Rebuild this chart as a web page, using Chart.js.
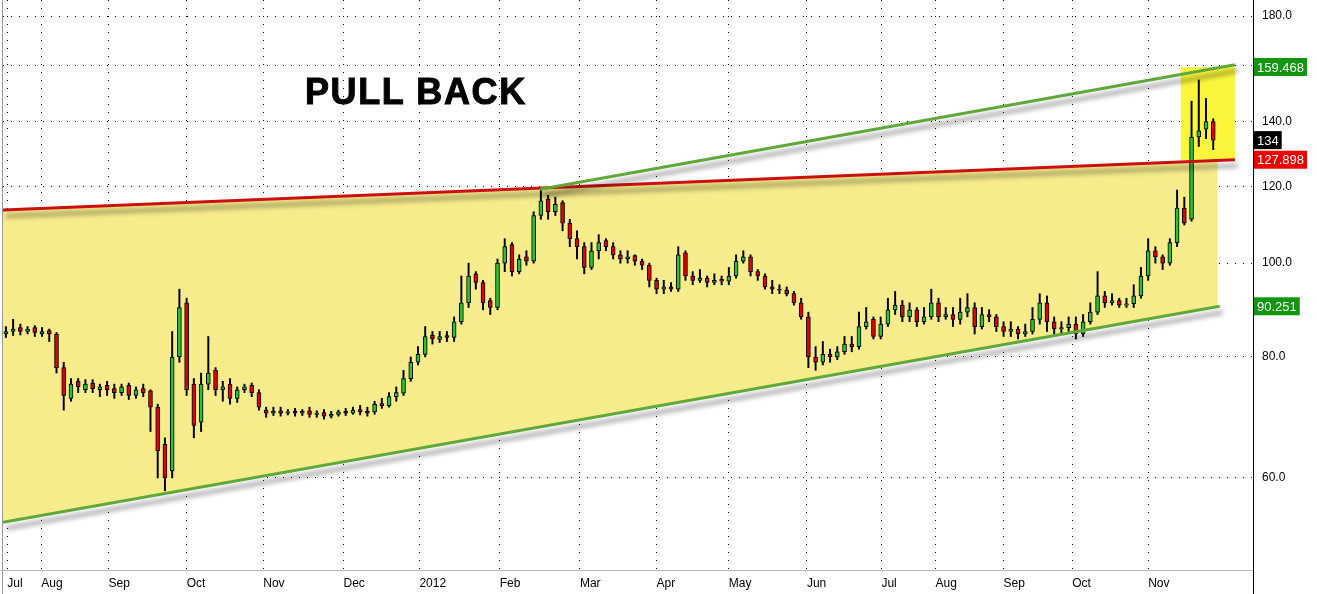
<!DOCTYPE html>
<html><head><meta charset="utf-8">
<script src="https://cdn.jsdelivr.net/npm/chart.js@4/dist/chart.umd.min.js"></script>
<style>
html,body{margin:0;padding:0;background:#fff;overflow:hidden}
#wrap{position:relative;width:1317px;height:594px}
#title{position:absolute;left:305px;top:71px;font:bold 36px "Liberation Sans",Arial,sans-serif;color:#000;letter-spacing:1.6px;-webkit-text-stroke:1px #000}
</style></head><body>
<div id="wrap"><canvas id="c" width="1317" height="594"></canvas><div id="title">PULL BACK</div></div>
<script>
// candle index positions of month labels (2 trading days per candle)
const monthLabels = ['Jul','Aug','Sep','Oct','Nov','Dec','2012','Feb','Mar','Apr','May','Jun','Jul','Aug','Sep','Oct','Nov'];
const monthPos = [0.2,4.9,14.2,25,35.6,46.7,57.2,68.3,79.4,90,100,110.8,121.1,128.6,138,147.5,158];
const yTicks = [60,80,100,120,140,160,180];

const opens = [84.5,85,85.8,85,85.8,84.5,85.2,84.5,78,72.5,75.5,74,75.2,74,74.8,74.2,73.5,74.8,73,74.2,73.8,71,65,61,80,91,75,68.5,75,77.5,74,75,72.5,74,74.8,73.5,70.5,70,70.4,70,70.3,70,70.4,69.8,70.1,69.5,69.8,70.3,70,70.6,70.3,70.2,71.6,71.2,72.8,73.4,76,79,80.5,84.3,83.4,84.2,83.8,87,91,97.5,95.5,91.5,90,100,104.5,98,101.5,100.5,112,116.5,113,115.5,110,106,104,99,103,105.5,104,102,101,101.8,100.5,99.5,96,94,94.5,94,102.5,97,96,96.5,95.5,96.2,95.8,97,100.5,101.5,98,97,94.5,94,93.8,93,91,88,80,79,80.5,80,81,82.5,82,86,87.5,84,86.5,89.5,90.5,88,89.5,87,88,91,88,88.5,87.5,89,90,86,88.5,88,86,85,85.5,84.5,85,87.5,91,87,85.5,85.8,86.5,84.5,87,89,92.5,91,91.5,90.5,90.8,92.5,97,103,101.5,100,105,114,111,135,137.5,140];
const highs = [86,87.5,86.5,86,86.2,85.8,85.5,84.8,79,76,76,75.8,75.8,75,75.5,75,75,75.2,74.5,75,74,71.5,66,85,94,92,76,77,84,78,75.5,76,74.5,75,75.2,74,71,71,71,70.6,70.8,70.6,71,70.4,70.6,70.3,70.5,70.8,71,71.3,71,72,72.5,73.5,74.5,77.5,80,82,86,85,85,85,88,97,100,98,96,92,101,106,105,102,103,113,119,117.5,117,116,111,108,105,105,107,106,105,103,103,102,101,100,96.5,96,95.5,104,103,98,98.5,97,97.5,97,99,102,103,102,98.5,97.5,96,95,94.5,93.5,92,89,82,83,81.5,82,84,84,89,90,88,88,92,93.5,91.5,91,90,90,94,92,90,90,92,93,91,90,89.5,88.5,87,87,86,86.5,90,93,92.5,88,87,88,88,88.5,91,98,93.5,93,92,92,95,99,106,104,102,106,119,117,147,154.6,148,141];
const lows = [83.8,84.2,84.3,84.5,84,84,83,77,70.5,72,73.5,73.5,73.5,72.8,73,72.5,73,72.3,72.5,72.8,67,60,58.2,60,79,73,66,67,74,73,72,71.5,71.8,73.5,72.8,70.5,69.3,69.6,69.5,69.7,69.5,69.6,69.3,69.3,69,69.2,69.5,69.6,69.8,69.7,69.5,69.8,70.8,71,72,73,75.5,78.5,80,82.5,82.8,83,83,86.5,90,94,89.5,88.5,89.5,98,97,97.5,99.5,100,111,111,112,108,104,101,97.5,98.5,101,103,101,100,100,99.5,98.5,94.5,93,93,93.5,93.5,96,95,95.5,94.5,95,95,95,96.5,100,97,96,94,93,93,92.5,90.5,87.5,78,77.5,78.5,79,79.5,80.5,81,81.5,85.5,83.5,83.5,86,88.5,87,87,86,86.5,87.5,87,87.5,86,86.5,88,84.5,85.5,87,85,84,84,83.5,84,84.5,86.5,85,84.5,84.5,85,83.5,84,86.5,88.5,90,90.5,90,90,90,92,96,100,98.5,99.5,104,109.5,110.5,132,134.5,131];
const closes = [85,85.5,85,85.5,84.8,85,84.5,78,73,75,74.5,75,74.2,74.5,74,73.5,74.5,73,74,73.5,71,64,60,80,90,74,68,75,77,74,74.5,72.5,74,74.5,73.5,71,70,70.3,70,70.2,70,70.3,69.8,70,69.5,69.8,70.2,70,70.5,70.2,70,71.5,71.2,72.8,73.5,76,79,80.5,84,83.5,84,83.8,87,91,97,95.5,91,90,100,104,98,101,100.5,112,116,113,115,110,106,104,99,103,105,104,102,101,101.5,100.5,99.5,96,94,94.5,94,102,97,96,96.5,95.5,96,95.8,97,100.5,101.5,98,97,94.5,94,93.8,93,91,88,80,79,80.5,80,81,82.5,82,86,87,84,86.5,89.5,90.5,88,89.5,87,88,91,88,88.5,87.5,89,90,86,88.5,88,86,85,85.5,84.5,85,87.5,91,87,85.5,85.8,86.5,84.5,87,89,92.5,91,91.5,90.5,90.8,92.5,97,103,101.5,100,105,114,110,135,137,140,134];

// trend lines: [candle index, price]
const lowerGreen = [[-0.4,54.0],[167.9,90.251]];
const upperGreen = [[73.9,119.2],[170,160.3]];
const redLine = [[-0.4,113.5],[170,127.898]];
const channelRight = 167.6;
const boxX = [162.5,170];
const boxY = [127.9,159.4];
const tags = [[159.468,'159.468','#12960f'],[134,'134','#000'],[127.898,'127.898','#ee0000'],[90.251,'90.251','#12960f']];

const UP='#2fbf2f', DOWN='#e00000';
const bodies = closes.map((c,i)=>({x:i,y:[opens[i],c]}));
const wicks = closes.map((c,i)=>({x:i,y:[lows[i],highs[i]]}));
const bodyCol = closes.map((c,i)=> c>=opens[i]?UP:DOWN);

function interp(line,x){const[a,b]=line;return Math.exp(Math.log(a[1])+(Math.log(b[1])-Math.log(a[1]))*(x-a[0])/(b[0]-a[0]));}

const bgPlugin={id:'bg',
 beforeDatasetsDraw(ch){
  const {ctx,scales:{x,y}}=ch;
  ctx.save();
  ctx.fillStyle='#f6ec8c';
  ctx.beginPath();
  ctx.moveTo(x.getPixelForValue(redLine[0][0]),y.getPixelForValue(redLine[0][1]));
  ctx.lineTo(x.getPixelForValue(channelRight),y.getPixelForValue(interp(redLine,channelRight)));
  ctx.lineTo(x.getPixelForValue(channelRight),y.getPixelForValue(interp(lowerGreen,channelRight)));
  ctx.lineTo(x.getPixelForValue(lowerGreen[0][0]),y.getPixelForValue(lowerGreen[0][1]));
  ctx.closePath();ctx.fill();
  ctx.fillStyle='#fbf63c';
  const x0=x.getPixelForValue(boxX[0]),x1=x.getPixelForValue(boxX[1]);
  const y0=y.getPixelForValue(boxY[1]),y1=y.getPixelForValue(boxY[0]);
  ctx.fillRect(x0,y0,x1-x0,y1-y0);
  ctx.restore();
 },
 beforeDatasetDraw(ch,args){
  if(ch.data.datasets[args.index].type==='line'){
   const ctx=ch.ctx;ctx.save();
   ctx.shadowColor='rgba(0,0,0,0.45)';ctx.shadowBlur=5;ctx.shadowOffsetX=3;ctx.shadowOffsetY=6;
  }
 },
 afterDatasetDraw(ch,args){ if(ch.data.datasets[args.index].type==='line') ch.ctx.restore(); },
 afterDraw(ch){
  const {ctx,scales:{y},chartArea:ca}=ch;
  ctx.save();
  ctx.strokeStyle='#000';ctx.lineWidth=1;
  ctx.beginPath();ctx.moveTo(ca.right+0.5,0);ctx.lineTo(ca.right+0.5,594);ctx.stroke();
  ctx.strokeStyle='#999';ctx.beginPath();ctx.moveTo(2.5,0);ctx.lineTo(2.5,594);ctx.stroke();
  ctx.strokeStyle='#bbb';ctx.beginPath();ctx.moveTo(0,ca.bottom+0.5);ctx.lineTo(ca.right,ca.bottom+0.5);ctx.stroke();
  ctx.font='13px "Liberation Sans", Arial, sans-serif';ctx.textBaseline='middle';
  tags.forEach(([v,t,c])=>{
   const py=y.getPixelForValue(v);
   const w=ctx.measureText(t).width+6;
   ctx.fillStyle=c;ctx.fillRect(ca.right+1,py-9,w,18);
   ctx.fillStyle='#fff';ctx.fillText(t,ca.right+4,py+1);
  });
  ctx.restore();
 }
};

new Chart(document.getElementById('c'),{
 data:{datasets:[
  {type:'line',data:upperGreen.map(p=>({x:p[0],y:p[1]})),borderColor:'#5fa83a',borderWidth:3,pointRadius:0,order:0},
  {type:'line',data:lowerGreen.map(p=>({x:p[0],y:p[1]})),borderColor:'#5fa83a',borderWidth:3,pointRadius:0,order:0},
  {type:'line',data:redLine.map(p=>({x:p[0],y:p[1]})),borderColor:'#cc1010',borderWidth:3,pointRadius:0,order:0},
  {type:'bar',data:bodies,backgroundColor:bodyCol,borderColor:'#000',borderWidth:1,borderSkipped:false,barThickness:4,grouped:false,order:1},
  {type:'bar',data:wicks,backgroundColor:'#000',borderWidth:0,barThickness:1.3,grouped:false,order:2}
 ]},
 options:{
  responsive:false,animation:false,
  layout:{padding:{left:3,top:0,right:0,bottom:0}},
  plugins:{legend:{display:false},tooltip:{enabled:false}},
  scales:{
   x:{type:'linear',min:-0.4,max:172.5,offset:false,
    afterBuildTicks(s){s.ticks=monthPos.map(v=>({value:v}));},
    afterFit(s){s.height=24;s.paddingLeft=0;s.paddingRight=0;},
    ticks:{autoSkip:false,maxRotation:0,align:'start',padding:6,color:'#000',
      font:{family:'"Liberation Sans", Arial',size:12},
      callback(v,i){return monthLabels[i];}},
    grid:{color:'#000',lineWidth:1,drawTicks:false,offset:false},
    border:{display:false,dash:[1,7]}
   },
   y:{type:'logarithmic',position:'right',min:48.2,max:187,
    afterBuildTicks(s){s.ticks=yTicks.map(v=>({value:v}));},
    afterFit(s){s.width=64;s.paddingTop=0;s.paddingBottom=0;},
    ticks:{color:'#000',padding:9,font:{family:'"Liberation Sans", Arial',size:12},callback(v){return Number(v).toFixed(1);}},
    grid:{color:'#000',lineWidth:1,drawTicks:false},
    border:{display:false,dash:[1,7]}
   }
  }
 },
 plugins:[bgPlugin]
});
</script>
</body></html>
